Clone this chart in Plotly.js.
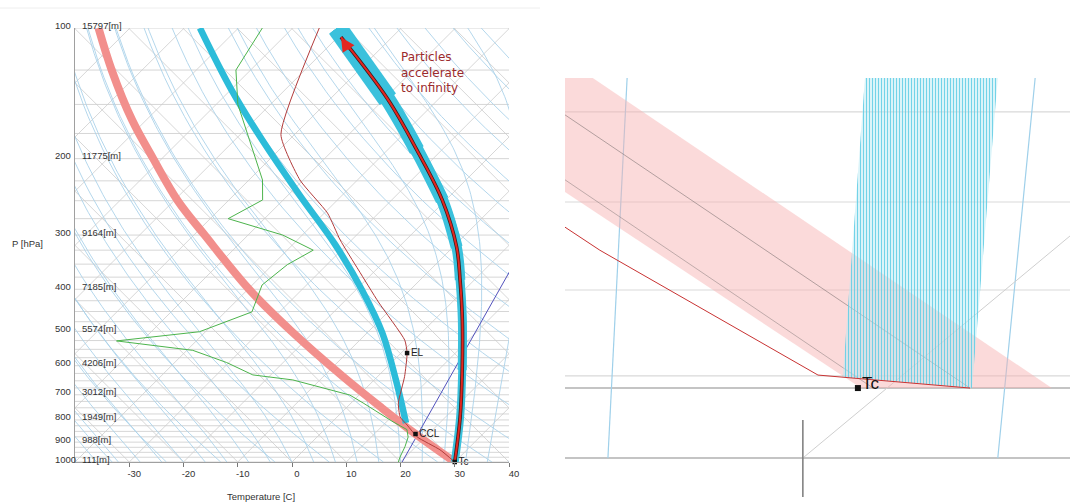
<!DOCTYPE html>
<html><head><meta charset="utf-8">
<script src="https://cdn.plot.ly/plotly-3.0.1.min.js"></script>
<style>html,body{margin:0;padding:0;background:#fff;} #chart{width:1070px;height:504px;}</style>
</head><body><div id="chart"></div>
<script>
// ================= DATA =================
// Left panel: skew-T log-p sounding (true temperatures in °C, pressure in hPa)
const pressureLevels = [100, 200, 300, 400, 500, 600, 700, 800, 900, 1000];
const heightLabels = ["15797[m]", "11775[m]", "9164[m]", "7185[m]", "5574[m]", "4206[m]", "3012[m]", "1949[m]", "988[m]", "111[m]"];
const tempTicks = [-30, -20, -10, 0, 10, 20, 30, 40];

// thick pink: dry adiabat from Tc
const dryP = [1000, 862, 750, 637, 500, 400, 300, 250, 200, 163, 125, 100];
const dryT = [30.0, 17.6, 6.5, -6.2, -24.2, -39.8, -58.0, -69.3, -81.6, -92.6, -105.6, -115.8];

// thick cyan (left): moist ascent above CCL
const cyanLowP = [813, 647, 504, 402, 316, 243, 181, 139, 100];
const cyanLowT = [13.8, 4.0, -7.2, -18.8, -32.1, -47.8, -65.0, -79.8, -97.1];

// thick cyan (right): moist adiabat from Tc
const cyanHighP = [1000, 788, 614, 471, 381, 320, 249, 191, 146, 100];
const cyanHighT = [30.0, 22.7, 14.4, 5.2, -2.6, -9.3, -20.7, -34.6, -49.3, -71.8];

// red particle path inside the right cyan band (ends at the arrow tip)
const particleP = [1000, 788, 614, 471, 381, 320, 249, 191, 146, 105];
const particleT = [30.0, 22.7, 14.4, 5.2, -2.6, -9.3, -20.7, -34.6, -49.3, -69.4];

// thin red: environmental temperature
const envP = [1000, 937, 876, 822, 787, 731, 636, 561, 524, 428, 361, 308, 267, 224, 176, 100];
const envT = [30.0, 25.0, 18.5, 14.4, 11.6, 8.7, 5.0, 1.1, -1.7, -13.6, -23.2, -32.1, -39.4, -50.6, -62.5, -75.1];

// thin green: dew point
const dewP = [1000, 974, 922, 876, 842, 808, 731, 701, 647, 630, 590, 553, 526, 501, 451, 391, 351, 325, 300, 275, 249, 224, 150, 125, 100];
const dewT = [19.6, 19.0, 18.0, 16.8, 15.2, 11.2, 2.2, -1.7, -15.0, -23.3, -30.4, -38.9, -54.7, -41.1, -35.1, -38.2, -37.3, -35.2, -43.6, -56.7, -53.8, -57.5, -76.0, -82.7, -85.6];

// blue mixing-ratio line through the surface dew point
const mixP = [1000, 363];
const mixT = [20.3, 4.9];

// labelled points
const pointNames = ["EL", "CCL", "Tc"];
const pointP = [561, 862, 1000];
const pointT = [1.1, 17.6, 30.0];

// graticule values
const isothermValues = [-130, -120, -110, -100, -90, -80, -70, -60, -50, -40, -30, -20, -10, 0, 10, 20, 30, 40];
const crossLineValues = [-40, -30, -20, -10, 0, 10, 20, 30, 40, 50, 60, 70, 80, 90, 100, 110, 120];
const dryThetaK = [230, 240, 250, 260, 270, 280, 290, 300, 310, 320, 330, 340, 350, 360, 370, 380, 390, 400, 410, 420, 430, 440, 450, 460];
const moistStartC = [-40, -36, -32, -28, -24, -20, -16, -12, -8, -4, 0, 4, 8, 12, 16, 20, 24, 28, 32, 36, 40];
const isobarValues = [100,125,150,175,200,225,250,275,300,325,350,375,400,425,450,475,500,525,550,575,600,625,650,675,700,725,750,775,800,825,850,875,900,925,950,975,1000];

// Right panel: magnified detail around Tc (panel units 0..100)
const zPinkU = [0, 5.5, 96.4, 58.6, 0];
const zPinkV = [100, 100, 26.0, 26.0, 72.8];
const zCyanU = [59.4, 85.7, 80.6, 55.0];
const zCyanV = [100, 100, 26.0, 28.6];
const zDryAU = [0, 80.2];
const zDryAV = [91.2, 26.0];
const zDryBU = [0, 61.0];
const zDryBV = [75.7, 26.0];
const zRedU = [0, 6.9, 50.1, 80.2];
const zRedV = [64.4, 58.9, 29.1, 26.0];
const zMoist1U = [12.3, 8.5];
const zMoist2U = [93.1, 85.7];
const zMoistV = [100, 9.3];
const zIsoU = [47.1, 100];
const zIsoV = [9.3, 62.3];
const zIsobarV = [91.9, 70.4, 49.4, 28.9];
const zBaseV = [26.0, 9.3];
const zTickU = [47.1, 47.1];
const zTickV = [18.4, 0];
const zTcU = [58.0];
const zTcV = [26.0];

// ================= DRAWING =================
const W = 1070, H = 504;
const SKEW = 34.8; // skew of isotherms (°C per ln p)
const sx = (T, p) => T + SKEW * Math.log(1000 / p);
const L = (x) => x / W, T_ = (y) => 1 - y / H;

const traces = [];
function add(P, Tc, line, extra) {
  traces.push(Object.assign({type:'scatter', mode:'lines', x:P.map((p,i)=>sx(Tc[i],p)), y:P.slice(),
    xaxis:'x', yaxis:'y', line:line, hoverinfo:'skip'}, extra||{}));
}
const GRAY = {color:'#cdcdcd', width:0.8}, BLUE = {color:'#acd3ea', width:0.9};
// isobars
(function(){ const xs=[],ys=[]; isobarValues.forEach(p=>{xs.push(-40,40,null);ys.push(p,p,null);});
  traces.push({type:'scatter',mode:'lines',x:xs,y:ys,xaxis:'x',yaxis:'y',line:{color:'#d6d6d6',width:1},hoverinfo:'skip'}); })();
// isotherms (rising) and their mirror lines (falling) -> diamond lattice
(function(){ const xs=[],ys=[];
  isothermValues.forEach(t=>{xs.push(sx(t,1000),sx(t,100),null);ys.push(1000,100,null);});
  crossLineValues.forEach(t=>{xs.push(t, t-SKEW*Math.log(10),null);ys.push(1000,100,null);});
  traces.push({type:'scatter',mode:'lines',x:xs,y:ys,xaxis:'x',yaxis:'y',line:GRAY,hoverinfo:'skip'}); })();
// dry adiabats
(function(){ const xs=[],ys=[]; const ps=[]; for(let p=1000;p>=100;p-=10) ps.push(p);
  dryThetaK.forEach(th=>{ ps.forEach(p=>{ xs.push(sx(th*Math.pow(p/1000,0.2857)-273.15,p)); ys.push(p);}); xs.push(null); ys.push(null);});
  traces.push({type:'scatter',mode:'lines',x:xs,y:ys,xaxis:'x',yaxis:'y',line:BLUE,hoverinfo:'skip'}); })();
// moist adiabats
(function(){
  const Rd=287.04, cp=1005.7, Lv=2.501e6, eps=0.622;
  const f=(T,p)=>{const tc=T-273.15; const es=6.112*Math.exp(17.67*tc/(tc+243.5)); const rs=eps*es/Math.max(p-es,1); return (Rd*T+Lv*rs)/(cp+Lv*Lv*rs*eps/(Rd*T*T));};
  const xs=[],ys=[]; const n=120; const dl=(Math.log(100)-Math.log(1000))/n;
  moistStartC.forEach(t0=>{ let T=t0+273.15, lp=Math.log(1000);
    for(let i=0;i<=n;i++){ const p=Math.exp(lp); xs.push(sx(T-273.15,p)); ys.push(p);
      const k1=f(T,p); const k2=f(T+0.5*dl*k1,Math.exp(lp+0.5*dl)); T+=dl*k2; lp+=dl; }
    xs.push(null); ys.push(null); });
  traces.push({type:'scatter',mode:'lines',x:xs,y:ys,xaxis:'x',yaxis:'y',line:BLUE,hoverinfo:'skip'}); })();

// mixing ratio line
add(mixP, mixT, {color:'#5252bd', width:1});
// thick curves
add(dryP, dryT, {color:'#f28f8c', width:8, shape:'spline'});
add(cyanLowP, cyanLowT, {color:'#2cbcd9', width:6.5, shape:'spline'});
// right cyan band, widening upward
(function(){
  const lay=[[1000,8],[620,9],[390,10.5],[325,12],[255,13.5],[195,15.5],[150,18],[101,20]];
  lay.forEach(([lim,w])=>{ const P=[],Tt=[]; cyanHighP.forEach((p,i)=>{ if(p<=lim){P.push(p);Tt.push(cyanHighT[i]);} });
    if(P.length===1){ const j=cyanHighP.length-2; P.unshift(cyanHighP[j]); Tt.unshift(cyanHighT[j]); }
    add(P,Tt,{color:'#3bc1dc',width:w,shape:'spline'}); });
})();
// thin sounding lines
add(envP, envT, {color:'#b23b3b', width:1, shape:'spline', smoothing:0.5});
add(dewP, dewT, {color:'#4cb44c', width:1});
// particle path
add(particleP, particleT, {color:'#3a1c1c', width:3.6, shape:'spline'});
add(particleP, particleT, {color:'#e3261f', width:2, shape:'spline'});
// points
traces.push({type:'scatter', mode:'markers+text', x:pointP.map((p,i)=>sx(pointT[i],p)), y:pointP.slice(),
  text:pointNames, textposition:'middle right', textfont:{family:'Liberation Sans, Arial, sans-serif', size:10, color:'#222'},
  marker:{symbol:'square', size:4.5, color:'#111'}, xaxis:'x', yaxis:'y', hoverinfo:'skip', cliponaxis:false});

// ---- right panel ----
const R = (u,v,line,extra)=>traces.push(Object.assign({type:'scatter',mode:'lines',x:u,y:v,xaxis:'x2',yaxis:'y2',line:line,hoverinfo:'skip'},extra||{}));
(function(){ const xs=[],ys=[]; zIsobarV.forEach(v=>{xs.push(0,100,null);ys.push(v,v,null);}); R(xs,ys,{color:'#d9d9d9',width:1.2}); })();
(function(){ const xs=[],ys=[]; zBaseV.forEach(v=>{xs.push(0,100,null);ys.push(v,v,null);}); R(xs,ys,{color:'#b0b0b0',width:1.4}); })();
R(zMoist1U, zMoistV, {color:'#9fd0ea', width:1.2});
R(zMoist2U, zMoistV, {color:'#9fd0ea', width:1.2});
R(zIsoU, zIsoV, {color:'#cfcfcf', width:1});
R(zPinkU, zPinkV, {width:0, color:'rgba(0,0,0,0)'}, {fill:'toself', fillcolor:'rgba(247,178,178,0.48)'});
R(zDryAU, zDryAV, {color:'rgba(120,110,110,0.55)', width:1});
R(zDryBU, zDryBV, {color:'rgba(120,110,110,0.45)', width:1});
R(zCyanU, zCyanV, {width:0, color:'rgba(0,0,0,0)'}, {fill:'toself', fillcolor:'rgba(205,240,248,0.5)',
   fillpattern:{shape:'|', fgcolor:'rgba(95,205,228,0.85)', bgcolor:'rgba(200,238,246,0.45)', size:3, solidity:0.4}});
R(zRedU, zRedV, {color:'#c83232', width:1});
R(zTickU, zTickV, {color:'#7a7a7a', width:1.5});
traces.push({type:'scatter', mode:'markers', x:zTcU, y:zTcV, xaxis:'x2', yaxis:'y2', marker:{symbol:'square', size:6, color:'#111'}, hoverinfo:'skip', cliponaxis:false});

// ---- annotations ----
const font = {family:'Liberation Sans, Arial, sans-serif', size:9.5, color:'#333'};
const ann = [];
pressureLevels.forEach((p,i)=>{
  ann.push({xref:'paper', yref:'y', x:L(53), y:Math.log10(p), yshift:3, xanchor:'left', yanchor:'middle', text:String(p), showarrow:false, font:font});
  ann.push({xref:'paper', yref:'y', x:L(80), y:Math.log10(p), yshift:3, xanchor:'left', yanchor:'middle', text:heightLabels[i], showarrow:false, font:font});
});
ann.push({xref:'paper', yref:'paper', x:L(27), y:T_(243), text:'P [hPa]', showarrow:false, font:font, xanchor:'center', yanchor:'middle'});
ann.push({xref:'paper', yref:'paper', x:L(260.5), y:T_(496), text:'Temperature [C]', showarrow:false, font:font, xanchor:'center', yanchor:'middle'});
ann.push({xref:'paper', yref:'paper', x:L(399), y:T_(48), xanchor:'left', yanchor:'top', align:'left',
  text:'Particles<br>accelerate<br>to infinity', showarrow:false, font:{family:'DejaVu Sans, Verdana, sans-serif', size:12, color:'#9c2b2d'}});
const tipP = particleP[particleP.length-1], tipT = particleT[particleT.length-1];
ann.push({xref:'x', yref:'y', x:sx(tipT,tipP), y:Math.log10(tipP), ax:9, ay:14, text:'', showarrow:true,
  arrowhead:2, arrowsize:1.4, arrowwidth:2, arrowcolor:'#e3261f', standoff:0});
ann.push({xref:'x2', yref:'y2', x:zTcU[0], y:zTcV[0], xshift:2, yshift:5, xanchor:'left', yanchor:'middle', text:'Tc', showarrow:false,
  font:{family:'Liberation Sans, Arial, sans-serif', size:17, color:'#111'}});

const layout = {
  width:W, height:H, margin:{l:0,r:0,t:0,b:0}, paper_bgcolor:'#fff', plot_bgcolor:'rgba(0,0,0,0)', showlegend:false,
  xaxis:{domain:[L(75), L(509)], range:[-40,40], tickvals:tempTicks, ticktext:tempTicks.map(String), ticks:'outside', ticklen:4, tickcolor:'#777',
    showgrid:false, zeroline:false, showline:true, linecolor:'#a0a0a0', linewidth:1, tickfont:font, ticklabelshift:5, ticklabelstandoff:-1, anchor:'y', fixedrange:true},
  yaxis:{domain:[T_(462), T_(28)], type:'log', range:[3,2], showgrid:false, showticklabels:false, ticks:'', showline:true,
    linecolor:'#a0a0a0', linewidth:1, zeroline:false, anchor:'x', fixedrange:true},
  xaxis2:{domain:[L(565), 1], range:[0,100], visible:false, anchor:'y2', fixedrange:true},
  yaxis2:{domain:[T_(497), T_(78)], range:[0,100], visible:false, anchor:'x2', fixedrange:true},
  annotations:ann,
  shapes:[{type:'line', xref:'paper', yref:'paper', x0:0, x1:L(540), y0:T_(8), y1:T_(8), line:{color:'#eeeeee', width:1}}]
};
Plotly.newPlot('chart', traces, layout, {staticPlot:true, displayModeBar:false});
</script></body></html>
